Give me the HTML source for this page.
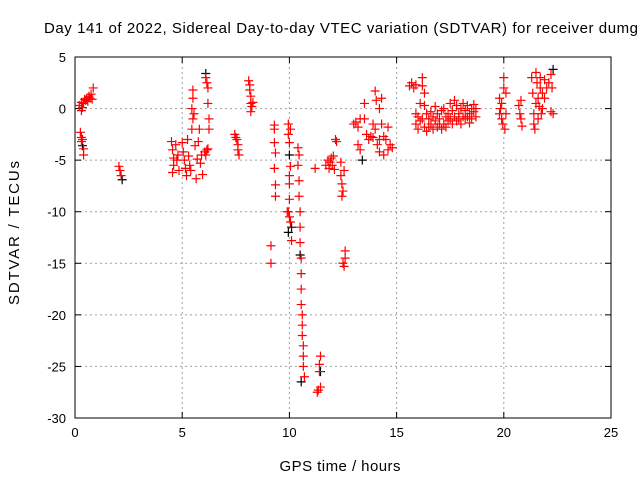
<!DOCTYPE html>
<html><head><meta charset="utf-8"><style>
html,body{margin:0;padding:0;background:#fff;}
svg{display:block;font-family:"Liberation Sans",sans-serif;}
</style></head><body>
<svg id="chart" width="640" height="480">
<text x="44" y="33" font-size="15" textLength="594" lengthAdjust="spacing" fill="#000">Day 141 of 2022, Sidereal Day-to-day VTEC variation (SDTVAR) for receiver dumg</text>
<text x="340" y="471" font-size="15" textLength="121" text-anchor="middle">GPS time / hours</text>
<text transform="translate(19,233) rotate(-90)" font-size="15" textLength="144" text-anchor="middle">SDTVAR / TECUs</text>
<g id="grid"></g>
<g id="axes"></g>
<g id="marks"></g>
</svg>
<script>
const xTicks=[0,5,10,15,20,25];
const yTicks=[5,0,-5,-10,-15,-20,-25,-30];
const redX=[0.2,0.3,0.35,0.4,0.5,0.55,0.6,0.65,0.7,0.75,0.8,0.85,0.3,0.45,
0.25,0.3,0.35,0.3,0.4,0.4,
2.05,2.1,2.15,
4.5,4.55,4.6,4.6,4.55,4.7,4.75,4.8,4.85,5.0,5.05,5.1,5.15,5.2,5.25,5.3,5.35,5.4,5.45,5.5,5.5,5.55,5.6,5.65,5.7,5.75,5.8,5.85,5.9,5.95,5.45,5.5,
6.05,6.1,6.15,6.2,6.1,6.15,6.2,6.2,6.25,6.25,
7.45,7.5,7.55,7.6,7.6,7.65,
8.1,8.15,8.15,8.2,8.2,8.25,8.3,8.2,
9.3,9.3,9.3,9.35,9.3,9.35,9.35,9.14,9.14,
9.95,9.95,10.0,10.05,10.0,10.0,9.95,10.0,10.05,10.1,10.05,10.0,9.9,
10.4,10.45,10.4,10.45,10.45,10.5,10.5,10.5,10.55,10.55,10.55,10.55,10.6,10.6,10.6,10.65,10.65,10.65,10.7,
11.45,11.4,11.4,11.35,11.3,11.45,11.2,
11.7,11.8,11.85,11.9,12.0,12.05,12.1,12.15,12.2,11.95,
12.4,12.45,12.5,12.45,12.55,12.4,12.5,12.55,12.6,12.6,
13.0,13.1,13.2,13.2,13.3,13.3,13.5,13.5,13.6,13.7,13.8,13.9,14.0,14.0,14.05,14.1,14.2,14.2,14.3,14.3,14.4,14.4,14.5,14.6,14.7,14.8,14.2,13.9,14.6,
15.6,15.7,15.8,15.9,
15.9,15.9,16.0,16.0,16.1,16.1,16.2,16.2,16.2,16.3,16.3,16.3,16.4,16.4,16.5,16.5,16.6,16.6,16.7,16.7,16.8,16.8,16.9,16.9,17.0,17.0,17.1,17.1,17.2,17.2,17.3,17.3,17.4,17.4,17.5,17.5,17.6,17.6,17.7,17.7,17.8,17.8,17.9,17.9,18.0,18.0,18.1,18.1,18.2,18.2,18.3,18.3,18.4,18.4,18.5,18.5,18.6,18.6,18.7,18.7,
19.8,19.85,19.9,19.9,19.95,20.0,20.0,20.05,20.1,19.8,20.1,
20.7,20.75,20.8,20.85,20.8,
21.3,21.35,21.4,21.4,21.45,21.5,21.5,21.55,21.6,21.7,21.7,21.75,21.8,21.8,21.9,21.9,22.0,22.1,22.2,22.25,22.2,22.3,21.65,21.6];
const redY=[0.3,0.6,0.1,0.5,0.8,1.0,0.7,1.2,1.0,1.4,0.9,2.0,-0.2,0.9,
-2.3,-2.8,-3.0,-3.2,-3.9,-4.5,
-5.6,-6.0,-6.5,
-3.2,-4.0,-4.8,-5.5,-6.2,-3.5,-5.0,-4.5,-6.0,-3.3,-4.2,-5.0,-5.8,-6.5,-3.0,-4.6,-5.5,-6.0,-2.0,-1.0,1.0,-0.5,-3.6,-6.8,-4.9,-3.2,-2.0,-5.3,-4.5,-6.4,0.0,1.8,
-4.2,-4.5,-4.0,-3.9,3.0,2.5,2.0,0.5,-1.0,-2.0,
-2.5,-2.8,-3.0,-3.5,-4.0,-4.5,
2.7,2.3,1.8,1.2,0.5,0.2,0.6,-0.3,
-1.6,-2.0,-3.3,-4.3,-5.8,-7.4,-8.5,-13.3,-15.0,
-1.5,-2.5,-3.3,-5.6,-7.3,-8.8,-10.0,-10.5,-11.0,-12.8,-2.0,-6.5,-10.0,
-3.8,-4.5,-5.5,-7.0,-8.5,-10.0,-11.5,-13.0,-14.5,-16.0,-17.5,-19.0,-20.0,-21.0,-22.0,-23.0,-24.0,-25.0,-26.0,
-24.0,-24.8,-25.5,-27.3,-27.5,-27.0,-5.8,
-5.5,-5.0,-5.8,-5.2,-5.5,-4.6,-5.9,-3.0,-3.2,-4.8,
-6.5,-7.3,-8.0,-8.5,-6.0,-5.2,-15.0,-15.3,-14.5,-13.8,
-1.5,-1.3,-1.8,-3.5,-1.0,-4.0,0.5,-1.0,-2.5,-3.0,-2.7,-1.5,1.7,-2.0,0.8,-3.5,0.0,-3.0,-1.5,1.0,-4.5,-2.7,-3.0,-4.0,-3.5,-3.8,-4.2,-2.8,-1.8,
2.2,2.5,2.0,2.3,
-0.5,-1.5,-2.0,-0.8,-1.2,0.5,3.0,2.2,-1.0,1.5,-1.8,0.3,-0.5,-2.2,-1.0,-1.8,-0.3,-1.5,-0.8,-2.0,-1.2,0.2,-0.5,-1.8,-1.0,-1.5,-0.2,-2.0,-1.5,0.0,-0.8,-1.8,-1.2,-0.5,0.5,-1.0,-1.5,-0.2,0.8,-0.8,-1.2,0.3,-0.5,-1.0,0.0,-1.5,-0.8,0.5,-1.0,-0.2,0.3,-0.8,-0.5,-1.4,0.0,-1.0,-0.3,0.4,-0.8,0.0,
1.0,0.0,-1.0,0.5,-1.5,2.0,3.0,-2.0,1.5,-0.5,-0.5,
0.3,-0.5,-1.0,-1.7,0.8,
3.0,1.5,-0.5,-1.5,-2.0,0.5,3.5,2.5,1.0,2.0,3.0,-0.5,1.5,0.0,2.8,1.0,2.0,2.5,3.3,2.0,-0.3,-0.5,0.2,-1.0];
const blackX=[0.35,2.2,10.1,10.5,10.55,11.45,13.4,10.0,22.3,6.1,9.95];
const blackY=[-3.6,-6.9,-11.5,-14.2,-26.5,-25.5,-5.0,-4.5,3.8,3.4,-12.0];

const L=75,R=611,T=57,B=418;
const sx=v=>L+(v-0)/25*(R-L);
const sy=v=>T+(5-v)/35*(B-T);
const NS="http://www.w3.org/2000/svg";
function mk(tag,attrs,parent){const e=document.createElementNS(NS,tag);for(const k in attrs)e.setAttribute(k,attrs[k]);parent.appendChild(e);return e;}
const grid=document.getElementById('grid'),axes=document.getElementById('axes'),marks=document.getElementById('marks');
xTicks.forEach(t=>{
  const x=sx(t);
  if(t>0&&t<25){const g=mk('line',{x1:x,x2:x,y1:T,y2:B,stroke:'#a0a0a0','stroke-dasharray':'2,3'},grid);
  
  }
  mk('line',{x1:x,x2:x,y1:B,y2:B-6,stroke:'#000'},axes);
  mk('line',{x1:x,x2:x,y1:T,y2:T+6,stroke:'#000'},axes);
  const tx=mk('text',{x:x,y:B+19,'font-size':13,'text-anchor':'middle'},axes);
  tx.textContent=t;
  
  
});
yTicks.forEach(t=>{
  const y=sy(t);
  if(t<5&&t>-30){const g=mk('line',{x1:L,x2:R,y1:y,y2:y,stroke:'#a0a0a0','stroke-dasharray':'2,3'},grid);
  
  }
  mk('line',{x1:L,x2:L+6,y1:y,y2:y,stroke:'#000'},axes);
  mk('line',{x1:R,x2:R-6,y1:y,y2:y,stroke:'#000'},axes);
  const tx=mk('text',{x:L-9,y:y+5,'font-size':13,'text-anchor':'end'},axes);
  tx.textContent=t;
  
  
});
mk('rect',{x:L,y:T,width:R-L,height:B-T,fill:'none',stroke:'#000'},axes);
function plus(x,y,c){
  const p=mk('path',{d:`M${x-4.5},${y}H${x+4.5}M${x},${y-4.5}V${y+4.5}`,stroke:c,'stroke-width':1.2,fill:'none'},marks);
  return p;
}
blackX.forEach((v,i)=>{const p=plus(sx(v),sy(blackY[i]),'#000');
  
  });
redX.forEach((v,i)=>{const p=plus(sx(v),sy(redY[i]),'#ff0000');
  
  });
</script>
</body></html>
